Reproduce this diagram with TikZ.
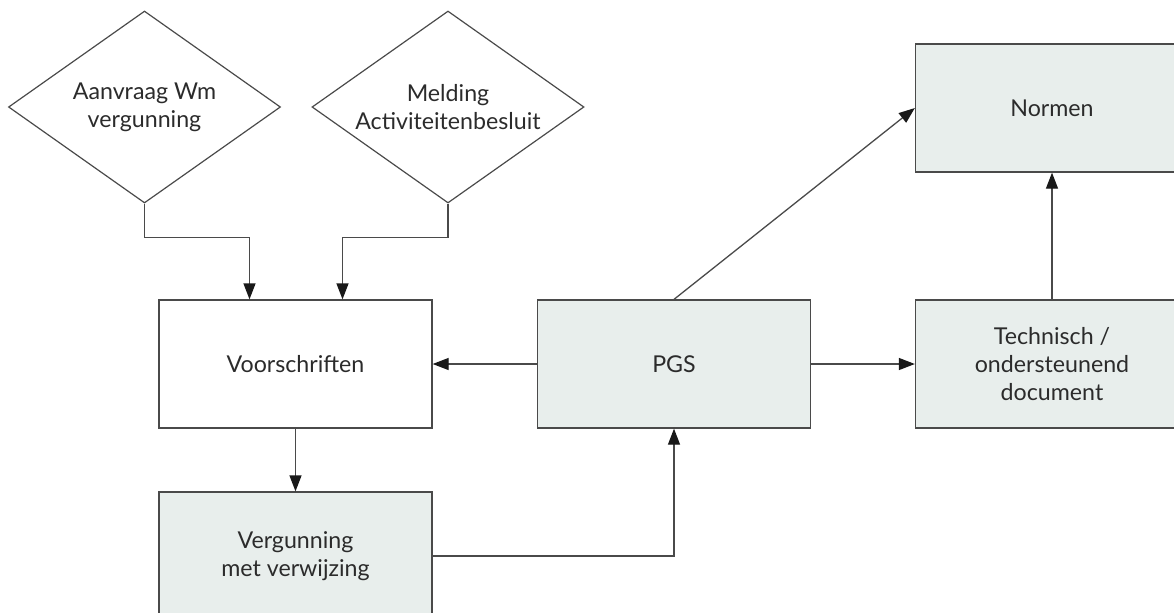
\documentclass[tikz,border=0pt]{standalone}
\usepackage{fontspec}
\setmainfont{Lato}
\usepackage{tikz}
\usetikzlibrary{arrows.meta, positioning, shapes.geometric, calc}
\definecolor{boxfill}{HTML}{E8EEEC}
\definecolor{lijn}{HTML}{4A4A4A}
\definecolor{tekst}{HTML}{2B2B2B}

\begin{document}
\begin{tikzpicture}[x=0.5pt, y=-0.5pt,
   font=\fontsize{11.6}{14.2}\selectfont, text=tekst,
   bx/.style={rectangle, draw=lijn, line width=0.65pt, minimum width=136.5pt,
              minimum height=64pt, align=center, inner sep=0pt},
   gbx/.style={bx, fill=boxfill},
   ruit/.style={diamond, draw=lijn, line width=0.6pt, aspect=1.4, inner sep=0pt,
                minimum width=136pt, minimum height=96pt, align=center},
   arr/.style={draw=lijn, line width=0.65pt,
               -{Triangle[length=8pt, width=6pt, fill=black!90, color=black!90]}}]
  \useasboundingbox (0,0) rectangle (1174,612);
  \node[ruit] (aanvr) at (144.5,107) {Aanvraag Wm\\vergunning};
  \node[ruit] (meld) at (448,107) {Melding\\Activiteitenbesluit};
  \node[bx] (voor) at (295.5,364) {Voorschriften};
  \node[gbx] (verg) at (295.5,556) {Vergunning\\met verwijzing};
  \node[gbx] (pgs) at (674,364) {PGS};
  \node[gbx] (tech) at (1052,364) {Technisch /\\ondersteunend\\document};
  \node[gbx] (norm) at (1052,108) {Normen};
  \draw[arr] (aanvr.south) -- ++(0,34) -| ([xshift=-23pt]voor.north);
  \draw[arr] (meld.south) -- ++(0,34) -| ([xshift=23.5pt]voor.north);
  \foreach \s/\t in {pgs.west/voor.east, pgs.east/tech.west, voor/verg,
                     pgs.north/norm.west, tech/norm}
     \draw[arr] (\s) -- (\t);
  \draw[arr] (verg.east) -| (pgs.south);
\end{tikzpicture}
\end{document}
